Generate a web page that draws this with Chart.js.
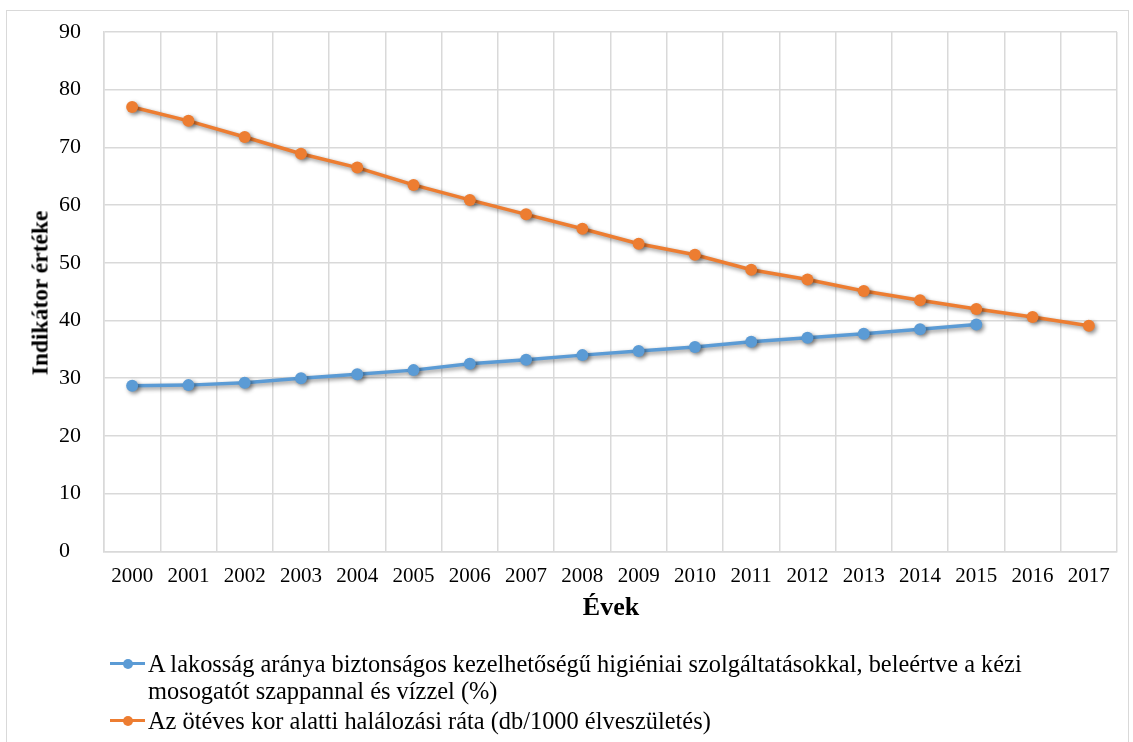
<!DOCTYPE html>
<html>
<head>
<meta charset="utf-8">
<script src="https://cdn.jsdelivr.net/npm/chart.js@4.4.1/dist/chart.umd.min.js"></script>
<style>
  html, body { margin: 0; padding: 0; background: #fff; }
  #wrap { position: relative; width: 1133px; height: 742px; overflow: hidden; font-family: "Liberation Serif", "Times New Roman", serif; color: #000; }
  #frame { position: absolute; left: 6px; top: 10px; width: 1123px; height: 760px; border: 1px solid #d9d9d9; box-sizing: border-box; }
  canvas { position: absolute; left: 0; top: 0; }
  #ytitle { position: absolute; left: 40px; top: 293px; transform: translate(-50%, -50%) rotate(-90deg); font-weight: bold; font-size: 23.5px; white-space: nowrap; }
  #xtitle { position: absolute; left: 611px; top: 607px; transform: translate(-50%, -50%); font-weight: bold; font-size: 26px; white-space: nowrap; }
  #legend { position: absolute; left: 110px; top: 650px; font-size: 24.4px; line-height: 27px; }
  .item { display: flex; align-items: flex-start; margin-bottom: 3px; }
  .mk { position: relative; width: 38px; height: 27px; flex: none; }
  .mk .ln { position: absolute; left: 0; width: 35px; top: 12px; height: 3px; }
  .mk .dt { position: absolute; left: 13px; top: 8.5px; width: 10px; height: 10px; border-radius: 50%; }
</style>
</head>
<body>
<div id="wrap">
  <div id="frame"></div>
  <canvas id="c" width="1133" height="742"></canvas>
  <div id="ytitle">Indikátor értéke</div>
  <div id="xtitle">Évek</div>
  <div id="legend"></div>
</div>
<script>
const years = ['2000','2001','2002','2003','2004','2005','2006','2007','2008','2009','2010','2011','2012','2013','2014','2015','2016','2017'];
const hygieneValues = [28.7, 28.8, 29.2, 30.0, 30.7, 31.4, 32.5, 33.2, 34.0, 34.7, 35.4, 36.3, 37.0, 37.7, 38.5, 39.3, null, null];
const mortalityValues = [77.0, 74.6, 71.8, 68.9, 66.5, 63.5, 60.9, 58.4, 55.9, 53.3, 51.4, 48.8, 47.1, 45.1, 43.5, 42.0, 40.6, 39.1];
const seriesNames = [
  'A lakosság aránya biztonságos kezelhetőségű higiéniai szolgáltatásokkal, beleértve a kézi\nmosogatót szappannal és vízzel (%)',
  'Az ötéves kor alatti halálozási ráta (db/1000 élveszületés)'
];
const seriesColors = ['#5B9BD5', '#ED7D31'];
const yTicks = [0, 10, 20, 30, 40, 50, 60, 70, 80, 90];

const shadowPlugin = {
  id: 'shadow',
  beforeDatasetsDraw(chart) {
    const ctx = chart.ctx;
    ctx.save();
    ctx.shadowColor = 'rgba(0,0,0,0.45)';
    ctx.shadowBlur = 4;
    ctx.shadowOffsetX = 2;
    ctx.shadowOffsetY = 2;
  },
  afterDatasetsDraw(chart) {
    chart.ctx.restore();
  }
};

const font = { family: '"Liberation Serif", "Times New Roman", serif' };

new Chart(document.getElementById('c'), {
  type: 'line',
  data: {
    labels: years,
    datasets: [hygieneValues, mortalityValues].map((vals, i) => ({
      label: seriesNames[i],
      data: vals,
      borderColor: seriesColors[i],
      backgroundColor: seriesColors[i],
      borderWidth: 3.5,
      pointRadius: 6,
      pointHoverRadius: 6,
      pointBorderWidth: 0,
      tension: 0,
      spanGaps: false
    }))
  },
  options: {
    responsive: false,
    animation: false,
    events: [],
    layout: { padding: { left: 59, right: 16, top: 32, bottom: 150.7 } },
    plugins: { legend: { display: false }, tooltip: { enabled: false } },
    scales: {
      x: {
        offset: true,
        grid: { offset: true, color: '#d9d9d9', lineWidth: 1.5, drawTicks: false },
        border: { display: true, color: '#d9d9d9', width: 1.5 },
        ticks: { padding: 13, color: '#000', font: { ...font, size: 21 }, maxRotation: 0, autoSkip: false },
        afterFit(s) { s.height = 40; }
      },
      y: {
        min: 0, max: 90,
        afterBuildTicks(s) { s.ticks = yTicks.map(v => ({ value: v })); },
        grid: { color: '#d9d9d9', lineWidth: 1.5, drawTicks: false },
        border: { display: true, color: '#d9d9d9', width: 1.5 },
        ticks: { crossAlign: 'far', color: '#000', font: { ...font, size: 22 } },
        afterFit(s) { s.width = 45; }
      }
    }
  },
  plugins: [shadowPlugin]
});

// HTML legend built from series names and colors
const lg = document.getElementById('legend');
seriesNames.forEach((name, i) => {
  const item = document.createElement('div');
  item.className = 'item';
  const mk = document.createElement('div');
  mk.className = 'mk';
  const ln = document.createElement('div'); ln.className = 'ln'; ln.style.background = seriesColors[i];
  const dt = document.createElement('div'); dt.className = 'dt'; dt.style.background = seriesColors[i];
  mk.appendChild(ln); mk.appendChild(dt);
  const tx = document.createElement('div');
  tx.innerHTML = name.split('\n').map(s => s.replace(/&/g,'&amp;').replace(/</g,'&lt;')).join('<br>');
  item.appendChild(mk); item.appendChild(tx);
  lg.appendChild(item);
});
</script>
</body>
</html>
